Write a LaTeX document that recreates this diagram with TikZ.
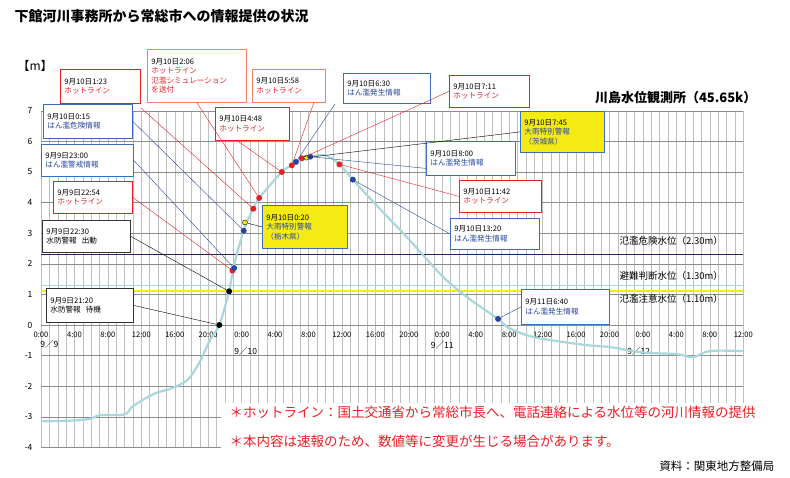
\documentclass[tikz,border=0pt]{standalone}
\usepackage{fontspec}
\setmainfont{Noto Sans CJK JP}
\usetikzlibrary{positioning}
\definecolor{hotred}{RGB}{235,30,35}
\definecolor{infoblue}{RGB}{40,70,160}
\definecolor{salmon}{RGB}{240,130,100}
\definecolor{boxblue}{RGB}{60,110,190}
\definecolor{river}{RGB}{170,215,220}
\definecolor{navy}{RGB}{35,35,100}
\definecolor{warnyel}{RGB}{245,235,20}

\begin{document}
\begin{tikzpicture}[x=1pt,y=-1pt,
    infobox/.style={draw,thick,fill=white,anchor=north west,align=left,
      font=\fontsize{7.6}{9.5}\selectfont,inner sep=4pt},
    redbox/.style={infobox,draw=hotred},
    salbox/.style={infobox,draw=salmon},
    bluebox/.style={infobox,draw=boxblue},
    blackbox/.style={infobox,draw=black!80},
    yelbox/.style={infobox,draw=boxblue,fill=warnyel},
    dot/.style={circle,inner sep=0pt,minimum size=6pt,draw=none},
    lead/.style={thin}]
  \useasboundingbox (0,0) rectangle (790,477);
  % title and units
  \node[anchor=west,font=\bfseries\fontsize{14}{15}\selectfont] (title) at (11,16) {下館河川事務所から常総市への情報提供の状況};
  \node[anchor=west,font=\fontsize{12}{13}\selectfont] (unit) at (14,66) {【m】};
  \node[anchor=east,font=\bfseries\fontsize{13}{14}\selectfont] (station) at (760,98) {川島水位観測所（45.65k）};

  \begin{scope}[shift={(41,325)},x=8.36pt,y=30.6pt]
    % grid
    \foreach \h in {0,...,84}
      \draw[black!25,line width=0.4pt] (\h,-4) -- (\h,7);
    \foreach \v in {-4,...,7} {
      \draw[black!45,line width=0.6pt] (0,\v) -- (84,\v);
      \node[anchor=east,font=\fontsize{8.5}{9}\selectfont] at (-0.6,\v) {\v};
    }
    \fill[white] (21.5,-2.55) rectangle (90,-4.2);
    \foreach \t [evaluate=\t as \lab using {int(mod(\t,24))}] in {0,4,...,84}
      \node[font=\fontsize{7.6}{8}\selectfont,inner sep=0.5pt] at (\t,-0.32) {\lab:00};
    \node[font=\fontsize{8.5}{9}\selectfont] (d9) at (1,-0.62) {9／9};
    \node[font=\fontsize{8.5}{9}\selectfont] (d10) at (24.5,-0.85) {9／10};
    \node[font=\fontsize{8.5}{9}\selectfont] (d11) at (48,-0.65) {9／11};
    \node[font=\fontsize{8.5}{9}\selectfont] (d12) at (71.5,-0.85) {9／12};
    % water levels
    \draw[river,line width=0.7pt] (0,1.3) -- (84,1.3);
    \draw[warnyel,line width=2.2pt] (0,1.1) -- (84,1.1);
    \draw[navy,line width=1.5pt] (0,2.3) -- (84,2.3);
    \node[anchor=west,font=\fontsize{9.5}{10}\selectfont] (lv1) at (68.8,2.75) {氾濫危険水位（2.30m）};
    \node[anchor=west,font=\fontsize{9.5}{10}\selectfont] (lv2) at (68.8,1.6) {避難判断水位（1.30m）};
    \node[anchor=west,font=\fontsize{9.5}{10}\selectfont] (lv3) at (68.8,0.85) {氾濫注意水位（1.10m）};
    % hydrograph
    \draw[river,line width=2.2pt] plot[smooth,tension=0.5] coordinates {
      (0,-3.15) (4,-3.12) (6,-3.06) (7,-2.95) (10,-2.92) (11,-2.65) (13.5,-2.25)
      (15.5,-2.08) (17.5,-1.8) (19,-1.2) (20.2,-0.5) (21.33,0) (22.5,1.1)
      (23,1.85) (24.25,3.1) (25.4,3.8) (26.1,4.15) (28.8,5.0) (30,5.22)
      (31.2,5.45) (32,5.5) (34,5.55) (35.7,5.25) (37.3,4.75) (40,3.95)
      (44,2.8) (48,1.6) (51,0.9) (54.67,0.2) (56,-0.1) (59,-0.4) (65,-0.65)
      (68,-0.72) (72,-0.9) (76,-0.95) (78,-1.05) (80,-0.85) (84,-0.85)};
    % events
    \node[dot,fill=black] (e2120) at (21.33,0) {};
    \node[dot,fill=black] (e2230) at (22.5,1.1) {};
    \node[dot,fill=hotred] (e2254) at (22.9,1.78) {};
    \node[dot,fill=infoblue] (e2300) at (23.1,1.86) {};
    \node[dot,fill=infoblue] (e0015) at (24.25,3.08) {};
    \node[dot,fill=warnyel,draw=black,minimum size=5pt] (e0020) at (24.4,3.35) {};
    \node[dot,fill=hotred] (e0123) at (25.4,3.8) {};
    \node[dot,fill=hotred] (e0206) at (26.1,4.15) {};
    \node[dot,fill=hotred] (e0448) at (28.8,5.0) {};
    \node[dot,fill=hotred] (e0558) at (30,5.22) {};
    \node[dot,fill=infoblue] (e0630) at (30.5,5.33) {};
    \node[dot,fill=hotred] (e0711) at (31.2,5.45) {};
    \node[dot,fill=warnyel,draw=black,minimum size=5pt] (e0745) at (31.75,5.47) {};
    \node[dot,fill=infoblue] (e0800) at (32.2,5.5) {};
    \node[dot,fill=hotred] (e1142) at (35.7,5.25) {};
    \node[dot,fill=infoblue] (e1320) at (37.3,4.75) {};
    \node[dot,fill=infoblue] (e0640) at (54.67,0.2) {};
  \end{scope}

  % boxes
  \node[redbox,text width=72pt,minimum height=34pt] (b0123) at (60,69) {9月10日1:23\\\textcolor{hotred}{ホットライン}};
  \node[salbox,text width=91pt,minimum height=53pt] (b0206) at (147,49) {9月10日2:06\\\textcolor{hotred}{ホットライン}\\\textcolor{hotred}{氾濫シミュレーション}\\\textcolor{hotred}{を送付}};
  \node[salbox,text width=65pt,minimum height=33pt] (b0558) at (252,69) {9月10日5:58\\\textcolor{hotred}{ホットライン}};
  \node[bluebox,text width=81pt,minimum height=34pt] (b0015) at (43,104) {9月10日0:15\\\textcolor{infoblue}{はん濫危険情報}};
  \node[redbox,text width=66pt,minimum height=33pt] (b0448) at (215,107) {9月10日4:48\\\textcolor{hotred}{ホットライン}};
  \node[bluebox,text width=84pt,minimum height=32pt] (b2300) at (41,144) {9月9日23:00\\\textcolor{infoblue}{はん濫警戒情報}};
  \node[redbox,text width=71pt,minimum height=32pt] (b2254) at (53,181) {9月9日22:54\\\textcolor{hotred}{ホットライン}};
  \node[blackbox,text width=80pt,minimum height=32pt] (b2230) at (42,220) {9月9日22:30\\水防警報\ \ 出動};
  \node[blackbox,text width=79pt,minimum height=34pt] (b2120) at (46,288) {9月9日21:20\\水防警報\ \ 待機};
  \node[yelbox,text width=77pt,minimum height=43pt] (b0020) at (262,205) {9月10日0:20\\\textcolor{infoblue}{大雨特別警報}\\\textcolor{infoblue}{（栃木県）}};
  \node[bluebox,text width=79pt,minimum height=30pt] (b0630) at (343,73) {9月10日6:30\\\textcolor{infoblue}{はん濫発生情報}};
  \node[redbox,text width=72pt,minimum height=32pt] (b0711) at (449,75) {9月10日7:11\\\textcolor{hotred}{ホットライン}};
  \node[yelbox,text width=76pt,minimum height=41pt] (b0745) at (520,111) {9月10日7:45\\\textcolor{infoblue}{大雨特別警報}\\\textcolor{infoblue}{（茨城県）}};
  \node[bluebox,text width=81pt,minimum height=34pt] (b0800) at (426,141) {9月10日8:00\\\textcolor{infoblue}{はん濫発生情報}};
  \node[redbox,text width=74pt,minimum height=32pt] (b1142) at (459,180) {9月10日11:42\\\textcolor{hotred}{ホットライン}};
  \node[bluebox,text width=81pt,minimum height=31pt] (b1320) at (450,218) {9月10日13:20\\\textcolor{infoblue}{はん濫発生情報}};
  \node[bluebox,text width=80pt,minimum height=35pt] (b0640) at (521,289) {9月11日6:40\\\textcolor{infoblue}{はん濫発生情報}};

  % leaders
  \draw[lead,black] (b2120.east) -- (e2120);
  \draw[lead,black] (b2230.east) -- (e2230);
  \draw[lead,hotred] (b2254.east) -- (e2254);
  \draw[lead,infoblue] (b2300.east) -- (e2300);
  \draw[lead,infoblue] (b0015.east) -- (e0015);
  \draw[lead,black] (b0020.west) -- (e0020);
  \draw[lead,hotred] ([yshift=-4pt]b0123.south east) -- (e0123);
  \draw[lead,hotred] (b0206.south) -- (e0206);
  \draw[lead,hotred] ([xshift=-15pt]b0448.south) -- (e0448);
  \draw[lead,hotred] ([xshift=-12pt]b0558.south east) -- (e0558);
  \draw[lead,infoblue] ([xshift=-8pt]b0630.south west) -- (e0630);
  \draw[lead,hotred] (b0711.west) -- (e0711);
  \draw[lead,black] (b0745.west) -- (e0745);
  \draw[lead,infoblue] ([yshift=-10pt]b0800.west) -- (e0800);
  \draw[lead,hotred] (b1142.west) -- (e1142);
  \draw[lead,infoblue] (b1320.west) -- (e1320);
  \draw[lead,infoblue] (b0640.west) -- (e0640);

  % notes
  \node[anchor=west,text=hotred,font=\fontsize{13.5}{14}\selectfont] (note1) at (226,412) {＊ホットライン：国土交通省から常総市長へ、電話連絡による水位等の河川情報の提供};
  \node[anchor=west,text=hotred,font=\fontsize{13.5}{14}\selectfont] (note2) at (226,441) {＊本内容は速報のため、数値等に変更が生じる場合があります。};
  \node[anchor=east,font=\fontsize{11.5}{12}\selectfont] (source) at (778,466) {資料：関東地方整備局};
\end{tikzpicture}
\end{document}
